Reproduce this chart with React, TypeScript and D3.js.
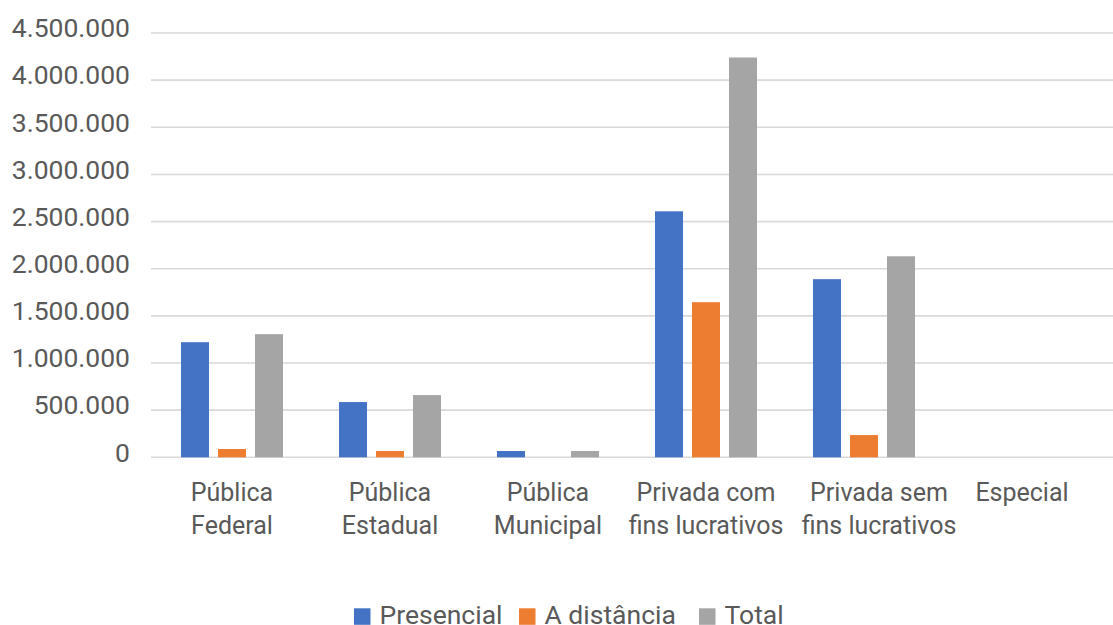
import React from "react";
import * as d3 from "d3";

const categories = [
  ["Pública", "Federal"],
  ["Pública", "Estadual"],
  ["Pública", "Municipal"],
  ["Privada com", "fins lucrativos"],
  ["Privada sem", "fins lucrativos"],
  ["Especial"],
];
const seriesNames = ["Presencial", "A distância", "Total"];
const presencial = [1221000, 586000, 67000, 2609000, 1889000, 0];
const aDistancia = [88000, 67000, 0, 1645000, 236000, 0];
const total = [1306000, 660000, 67000, 4240000, 2132000, 0];
const yTicks = [0, 500000, 1000000, 1500000, 2000000, 2500000, 3000000, 3500000, 4000000, 4500000];
const colors = ["#4472C4", "#ED7D31", "#A5A5A5"];

const W = 1113;
const H = 625;
const FONT = "Roboto, 'Noto Sans', sans-serif";

const locale = d3.formatLocale({ decimal: ",", thousands: ".", grouping: [3], currency: ["R$", ""] });
const fmt = locale.format(",d");

export default function App() {
  const series = [presencial, aDistancia, total];
  const catKeys = categories.map((c) => c.join(" "));
  const x0 = d3.scaleBand<string>().domain(catKeys).range([153, 1101]).padding(0);
  const x1 = d3.scaleBand<string>().domain(seriesNames).range([-51, 51]).paddingInner(0.243).paddingOuter(0);
  const y = d3.scaleLinear().domain([0, 4500000]).range([457.3, 33]);
  // the reference nudges the 5th label right to keep it clear of its neighbour
  const labelNudge = (ci: number) => (ci === 4 ? 15 : 0);

  return (
    <svg width={W} height={H} style={{ position: "absolute", left: 0, top: 0, background: "#fff" }} fontFamily={FONT}>
      <rect width={W} height={H} fill="#fff" />
      {yTicks.map((t) => (
        <g key={t}>
          <line x1={151} x2={1113} y1={y(t)} y2={y(t)} stroke="#D9D9D9" strokeWidth={1.6} />
          <text x={130} y={y(t) + 4.3} textAnchor="end" fontSize={26.5} fill="#595959">
            {fmt(t)}
          </text>
        </g>
      ))}
      {catKeys.map((k, ci) => {
        const cx = (x0(k) as number) + x0.bandwidth() / 2;
        return (
          <g key={k}>
            {series.map((vals, si) => {
              const v = vals[ci];
              if (!v) return null;
              const bx = cx + (x1(seriesNames[si]) as number);
              return (
                <rect key={si} x={bx} y={y(v)} width={x1.bandwidth()} height={y(0) - y(v)} fill={colors[si]} />
              );
            })}
            {categories[ci].map((line, li) => (
              <text
                key={li}
                x={cx + labelNudge(ci)}
                y={500.7 + li * 33}
                textAnchor="middle"
                fontSize={25}
                fill="#595959"
              >
                {line}
              </text>
            ))}
          </g>
        );
      })}
      {seriesNames.map((s, i) => {
        const lx = [354, 519, 699][i];
        return (
          <g key={s}>
            <rect x={lx} y={608.3} width={16.5} height={16.5} fill={colors[i]} />
            <text x={lx + 25.5} y={624} fontSize={26.5} fill="#595959">
              {s}
            </text>
          </g>
        );
      })}
    </svg>
  );
}
